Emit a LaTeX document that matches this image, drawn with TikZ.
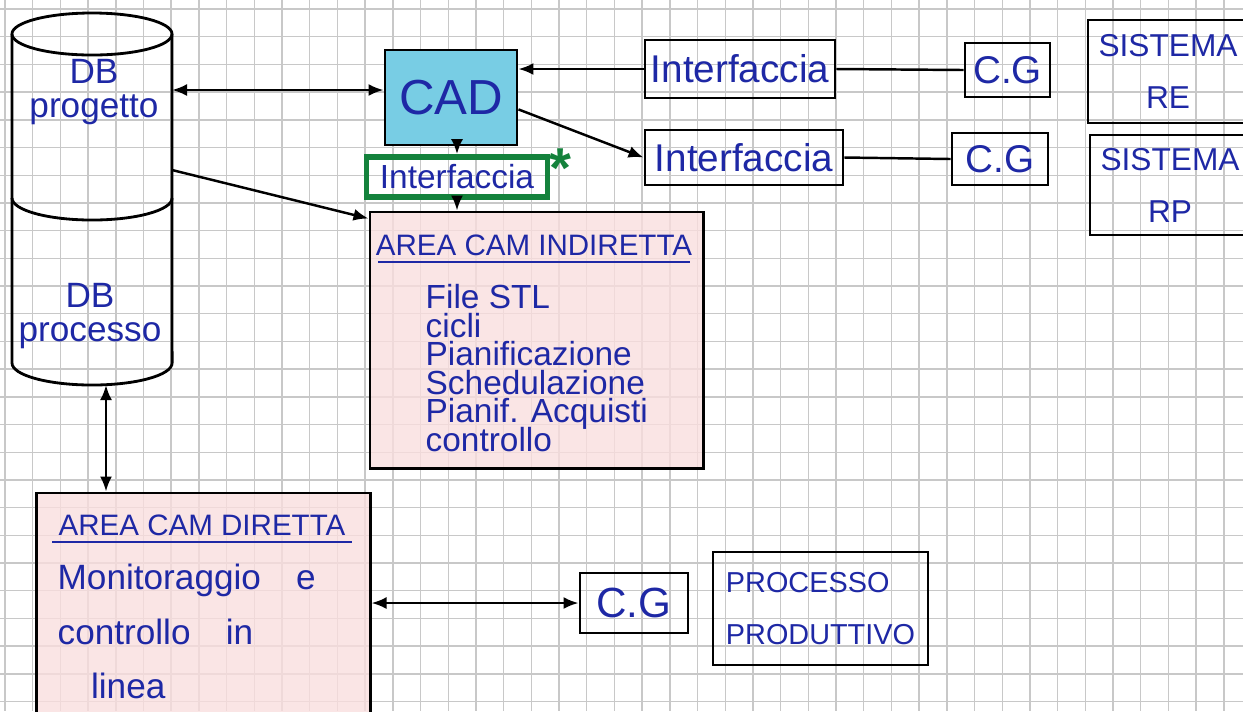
\documentclass[tikz,border=0pt]{standalone}
\usepackage{fontspec}
\setmainfont{Liberation Sans}
\usetikzlibrary{arrows.meta,positioning,calc}
\definecolor{inkblue}{RGB}{30, 40, 165}
\definecolor{areapink}{RGB}{249, 222, 222}
\definecolor{cadcyan}{RGB}{120, 205, 228}
\definecolor{markergreen}{RGB}{20, 130, 60}
\definecolor{papergrid}{RGB}{200, 200, 200}
\tikzset{
  box/.style={draw, line width=0.8pt, inner sep=0pt, text=inkblue},
  pinkbox/.style={box, fill=areapink, fill opacity=0.8, text opacity=1},
  hand/.style={text=inkblue, inner sep=0pt},
  link/.style={line width=0.7pt},
  arr/.style={link, -{Latex[length=1.5mm, width=1.2mm]}},
  dblarr/.style={link, {Latex[length=1.5mm, width=1.2mm]}-{Latex[length=1.5mm, width=1.2mm]}},
  paperline/.style={papergrid, line width=0.4pt}
}

\begin{document}
\begin{tikzpicture}[x=0.01cm, y=-0.01cm]
    \useasboundingbox (0,0) rectangle (1243,711);
    \clip (0,0) rectangle (1243,711);

    % Paper grid
    \foreach \gx in {0,...,44} \draw[paperline] (5+27.7*\gx,0) -- (5+27.7*\gx,711);
    \foreach \gy in {0,...,25} \draw[paperline] (0,9+27.7*\gy) -- (1243,9+27.7*\gy);

    % Database cylinder
    \draw[line width=0.8pt] (12,34) -- (12,363) arc[start angle=180, end angle=360, x radius=0.8cm, y radius=0.22cm] -- (172,34);
    \draw[line width=0.8pt] (92,34) ellipse [x radius=0.8cm, y radius=0.21cm];
    \draw[line width=0.8pt] (12,198) arc[start angle=180, end angle=360, x radius=0.8cm, y radius=0.22cm];
    \node[hand, align=center, font=\fontsize{10}{9.5}\selectfont] (dbprog) at (94,92) {DB\\progetto};
    \node[hand, align=center, font=\fontsize{10}{9.5}\selectfont] (dbproc) at (90,316) {DB\\processo};
    \coordinate (db-e1) at (172,90);
    \coordinate (db-e2) at (172,170);
    \coordinate (db-s) at (106,385);

    % CAD and its interface
    \node[box, fill=cadcyan, minimum width=1.32cm, minimum height=0.95cm, font=\fontsize{14}{14}\selectfont] (cad) at (451,97.5) {CAD};
    \node[box, draw=markergreen, line width=1.6pt, minimum width=1.81cm, minimum height=0.40cm, font=\fontsize{9.5}{9.5}\selectfont] (cadif) at (457,177) {Interfaccia};
    \node[text=markergreen, font=\fontsize{16}{16}\bfseries] (mark) at (560,168) {*};

    % Area CAM indiretta
    \node[pinkbox, minimum width=3.33cm, minimum height=2.56cm] (indir) at (536.5,340) {};
    \node[hand, font=\fontsize{8.4}{8.4}\selectfont] (indir-title) at (534,245) {AREA CAM INDIRETTA};
    \draw[inkblue, line width=0.6pt] (378,262) -- (690,262);
    \node[hand, anchor=north west, align=left, font={\fontsize{9.5}{8.1}\selectfont\lineskiplimit=-10pt\relax}] (indir-list) at (425,284) {File STL\\cicli\\Pianificazione\\Schedulazione\\Pianif. Acquisti\\controllo};

    % Interfaces towards RE and RP
    \node[box, minimum width=1.90cm, minimum height=0.58cm, font=\fontsize{11}{11}\selectfont] (if-re) at (740,69) {Interfaccia};
    \node[box, minimum width=0.85cm, minimum height=0.54cm, font=\fontsize{11}{11}\selectfont] (cg-re) at (1007.5,70) {C.G};
    \node[box, minimum width=1.98cm, minimum height=0.55cm, font=\fontsize{11}{11}\selectfont] (if-rp) at (744,157.5) {Interfaccia};
    \node[box, minimum width=0.96cm, minimum height=0.52cm, font=\fontsize{11}{11}\selectfont] (cg-rp) at (1000,159) {C.G};

    % Systems
    \node[box, minimum width=1.60cm, minimum height=1.03cm, align=center, font=\fontsize{9}{14.8}\selectfont] (sys-re) at (1168,71.5) {SISTEMA\\RE};
    \node[box, minimum width=1.60cm, minimum height=1.00cm, align=center, font=\fontsize{9}{14.8}\selectfont] (sys-rp) at (1170,185) {SISTEMA\\RP};

    % Area CAM diretta
    \node[pinkbox, minimum width=3.33cm, minimum height=2.47cm] (direct) at (203.5,616.5) {};
    \node[hand, font=\fontsize{8.4}{8.4}\selectfont] (direct-title) at (202,525) {AREA CAM DIRETTA};
    \draw[inkblue, line width=0.6pt] (52,542) -- (352,542);
    \node[hand, anchor=north west, align=left, font=\fontsize{10}{15.6}\selectfont] (direct-text) at (57,563) {Monitoraggio\quad e\\controllo\quad in\\\hspace*{0.95em}linea};

    % Production process
    \node[box, minimum width=1.08cm, minimum height=0.60cm, font=\fontsize{12}{12}\selectfont] (cg-proc) at (634,603) {C.G};
    \node[box, minimum width=2.15cm, minimum height=1.13cm, align=left, font=\fontsize{8.2}{15}\selectfont] (proc) at (820.5,608.5) {PROCESSO\\PRODUTTIVO};

    % Connectors
    \draw[dblarr] (db-e1) -- (db-e1 -| cad.west);
    \draw[arr] (db-e2) -- ($(indir.north west)+(0,8)$);
    \draw[dblarr] (db-s) -- (db-s |- direct.north);
    \draw[arr] (cadif.north |- cad.south) -- (cadif.north);
    \draw[arr] (cadif.south) -- (cadif.south |- indir.north);
    \draw[arr] (if-re.west) -- (if-re.west -| cad.east);
    \draw[link] (if-re.east) -- (cg-re.west);
    \draw[arr] (cad.350) -- (if-rp.west);
    \draw[link] (if-rp.east) -- (cg-rp.west);
    \draw[dblarr] (cg-proc.west -| direct.east) -- (cg-proc.west);
\end{tikzpicture}
\end{document}
